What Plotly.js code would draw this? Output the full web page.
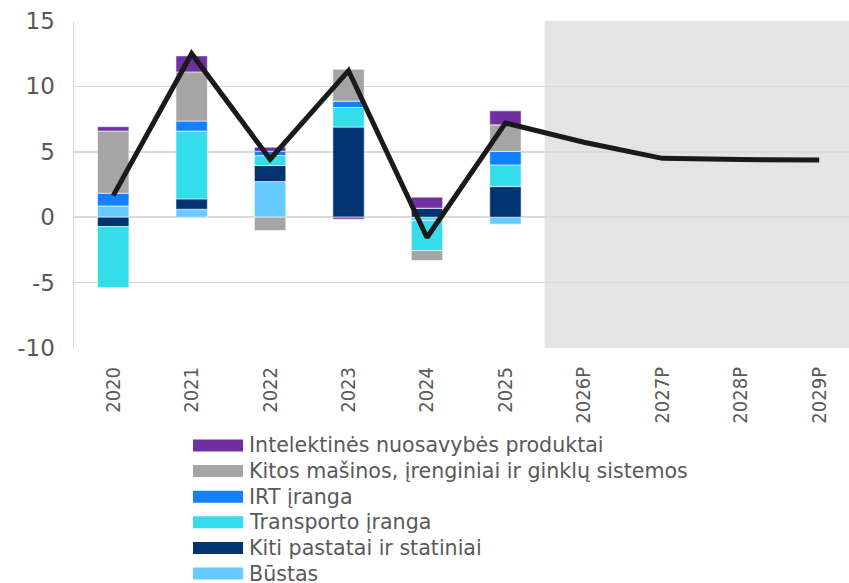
<!DOCTYPE html>
<html><head><meta charset="utf-8">
<script src="https://cdn.plot.ly/plotly-3.0.1.min.js"></script>
<style>html,body{margin:0;padding:0;background:#fff;}#chart{width:849px;height:583px;}</style>
</head><body><div id="chart"></div>
<script>
const years = ['2020','2021','2022','2023','2024','2025','2026P','2027P','2028P','2029P'];
const barYears = ['2020','2021','2022','2023','2024','2025'];
const bustas      = [0.86, 0.61, 2.73, 0.00, -0.25, -0.53];
const kitiPastatai= [-0.72, 0.79, 1.22, 6.89, 0.69, 2.34];
const transportas = [-4.66, 5.19, 0.76, 1.50, -2.30, 1.66];
const irt         = [0.97, 0.76, 0.33, 0.48, 0.00, 1.02];
const kitosMasinos= [4.76, 3.76, -1.02, 2.44, -0.76, 2.04];
const intelekt    = [0.33, 1.22, 0.31, -0.15, 0.84, 1.07];
const total       = [1.65, 12.5, 4.43, 11.2, -1.55, 7.2, 5.73, 4.5, 4.41, 4.37];
const yTickVals = [-10, -5, 0, 5, 10, 15];
const yTickText = ['-10', '-5', '0', '5', '10', '15'];
const seriesNames = ['Būstas','Kiti pastatai ir statiniai','Transporto įranga','IRT įranga','Kitos mašinos, įrenginiai ir ginklų sistemos','Intelektinės nuosavybės produktai'];
const seriesColors = ['#66CCFF','#00336F','#35DDEA','#1380FF','#A5A5A5','#7030A0'];
const seriesData = [bustas, kitiPastatai, transportas, irt, kitosMasinos, intelekt];

const traces = seriesData.map((d,i)=>({
  type:'bar', x:barYears, y:d, name:seriesNames[i], width:0.4,
  marker:{color:seriesColors[i], line:{color:'rgba(255,255,255,0.7)', width:0.8}},
  showlegend:false, hoverinfo:'skip'
}));
traces.push({type:'scatter', mode:'lines', x:years, y:total, line:{color:'#1A1A1A', width:5}, showlegend:false});

// manual legend (top to bottom)
const legendOrder = [5,4,3,2,1,0];
const W=849, H=583, L=74, T=21, PB=348;
const px2x = p => (p-L)/(W-L);
const py2y = p => (PB-p)/(PB-T);
const shapes = [{type:'rect', xref:'x', yref:'y', x0:5.5, x1:10, y0:-10, y1:15, fillcolor:'#E4E4E4', line:{width:0}, layer:'below'}];
const annotations = [];
legendOrder.forEach((si,k)=>{
  const cy = 445.5 + k*25.6;
  shapes.push({type:'rect', xref:'paper', yref:'paper', x0:px2x(193), x1:px2x(243), y0:py2y(cy+6), y1:py2y(cy-6), fillcolor:seriesColors[si], line:{width:0}});
  annotations.push({xref:'paper', yref:'paper', x:px2x(247), y:py2y(cy), xanchor:'left', yanchor:'middle', showarrow:false, text:seriesNames[si], font:{family:'DejaVu Sans', size:20.6, color:'#595959'}});
});

const layout = {
  width:W, height:H, margin:{l:L, r:0, t:T, b:H-PB}, paper_bgcolor:'#fff', plot_bgcolor:'#fff',
  barmode:'relative', showlegend:false,
  font:{family:'DejaVu Sans', color:'#595959'},
  xaxis:{type:'category', categoryarray:years, range:[-0.5, 9.38], showgrid:false, zeroline:false, showline:false,
    tickangle:-90, tickfont:{family:'DejaVu Sans Condensed', size:20, color:'#595959'}, ticks:'', ticklabelstandoff:14},
  yaxis:{range:[-10,15], tickmode:'array', tickvals:yTickVals, ticktext:yTickText, showgrid:true, gridcolor:'#D9D9D9', gridwidth:1.5, zeroline:true, zerolinecolor:'#D9D9D9', zerolinewidth:1.5,
    showline:true, linecolor:'#D9D9D9', linewidth:1.5, tickfont:{size:23, color:'#595959'}, ticks:'', ticklabelstandoff:13},
  shapes:shapes, annotations:annotations
};
Plotly.newPlot('chart', traces, layout, {staticPlot:true, displayModeBar:false});
</script></body></html>
